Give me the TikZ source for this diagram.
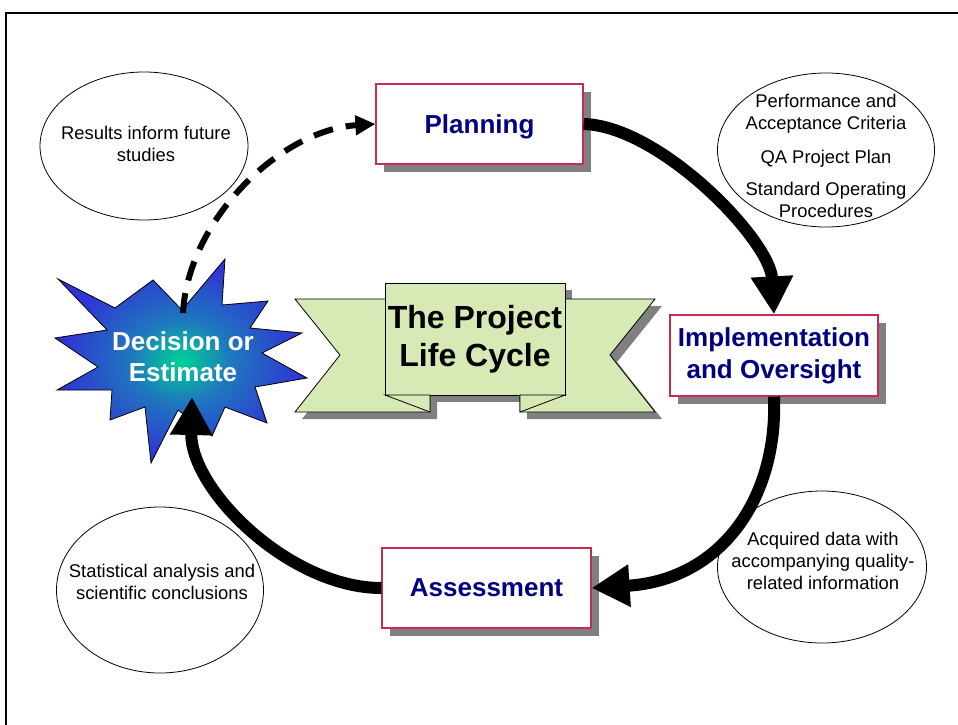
\documentclass[tikz,border=0pt]{standalone}
\usepackage{fontspec}
\setmainfont{Liberation Sans}
\usetikzlibrary{arrows.meta,shadows,shapes.geometric}
\definecolor{navy}{RGB}{0,0,128}
\definecolor{boxred}{RGB}{200,45,80}
\definecolor{shadowgray}{RGB}{128,128,128}
\definecolor{ribbongreen}{RGB}{215,233,181}
\definecolor{starblue}{RGB}{48,52,212}
\definecolor{starmid}{RGB}{30,120,190}
\definecolor{starteal}{RGB}{0,210,150}
\pgfdeclareradialshading{starglow}{\pgfpoint{0bp}{0bp}}{%
  color(0bp)=(starteal); color(10bp)=(starmid); color(24bp)=(starblue); color(50bp)=(starblue)}
\begin{document}
\begin{tikzpicture}[x=1pt,y=-1pt,
  stagebox/.style={rectangle, draw=boxred, line width=1.2pt, fill=white,
    align=center, text=navy, font=\fontsize{26}{32}\selectfont\bfseries,
    inner sep=0pt,
    general shadow={fill=shadowgray, shadow xshift=8pt, shadow yshift=-8pt}},
  ell/.style={ellipse, draw=black, line width=0.8pt, fill=white, inner sep=0pt},
  etext/.style={align=center, font=\fontsize{18.4}{22}\selectfont, inner sep=0pt},
  startext/.style={align=center, text=white, font=\fontsize{26}{31}\selectfont\bfseries, inner sep=0pt},
  ribbonpart/.style={fill=ribbongreen, draw=black, line width=0.8pt, line join=miter},
  bigarrow/.style={line width=12pt, -{Triangle[width=40pt,length=38pt]}},
  dasharrow/.style={line width=6pt, dash pattern=on 20pt off 13pt, -{Triangle[width=19pt,length=20pt]}}
]
\useasboundingbox (0,0) rectangle (958,725);
\fill[white] (0,0) rectangle (958,725);
% frame
\draw[line width=2.5pt] (6,740) -- (6,13) -- (970,13);

% ellipses
\node[ell, minimum width=208pt, minimum height=148pt] (e1) at (144,146) {};
\node[etext] (t1) at (146,144) {Results inform future\\studies};
\node[ell, minimum width=217pt, minimum height=154pt] (e2) at (826,150) {};
\node[etext] (t2) at (826,156) {Performance and\\Acceptance Criteria\\[12pt]QA Project Plan\\[10pt]Standard Operating\\Procedures};
\node[ell, minimum width=207pt, minimum height=166pt] (e3) at (160,590) {};
\node[etext] (t3) at (162,582) {Statistical analysis and\\scientific conclusions};
\node[ell, minimum width=209pt, minimum height=152pt] (e4) at (822,567) {};
\node[etext] (t4) at (823,561) {Acquired data with\\accompanying quality-\\related information};

% ribbon shadow
\begin{scope}[shift={(7,7)}]
  \fill[shadowgray] (295,299) -- (430,299) -- (430,412) -- (295,412) -- (340,355) -- cycle;
  \fill[shadowgray] (655,299) -- (520,299) -- (520,412) -- (655,412) -- (610,355) -- cycle;
  \fill[shadowgray] (385,283) rectangle (565,395);
\end{scope}
% ribbon
\path[ribbonpart] (295,299) -- (430,299) -- (430,412) -- (295,412) -- (340,355) -- cycle;
\path[ribbonpart] (655,299) -- (520,299) -- (520,412) -- (655,412) -- (610,355) -- cycle;
\path[ribbonpart] (385,283) rectangle (565,395);
\path[ribbonpart] (385,395) -- (430,412) -- (430,395) -- cycle;
\path[ribbonpart] (565,395) -- (520,412) -- (520,395) -- cycle;
\node[align=center, font=\fontsize{32}{38}\selectfont\bfseries, inner sep=0pt] (title) at (475,339) {The Project\\Life Cycle};

% star
\shade[draw=black, line width=0.8pt, shading=starglow]
  (58,279) -- (115,308) -- (153,280) -- (182,310) -- (225,259) -- (222,305)
  -- (268,301) -- (250,328) -- (302,333) -- (262,353) -- (307,378) -- (255,387)
  -- (267,423) -- (225,407) -- (212,436) -- (178,410) -- (151,463) -- (145,407)
  -- (110,420) -- (112,390) -- (57,390) -- (98,367) -- (55,338) -- (107,330) -- cycle;
\node[startext] (dec) at (183,357) {Decision or\\Estimate};
\coordinate (startop) at (183,313);
\coordinate (starbot) at (192,397);

% stage boxes
\node[stagebox, minimum width=207pt, minimum height=80pt, text depth=0pt] (plan) at (479.5,124) {Planning};
\node[stagebox, minimum width=208pt, minimum height=81pt] (impl) at (774,355.5) {Implementation\\and Oversight};
\node[stagebox, minimum width=209pt, minimum height=80pt] (assess) at (486.5,588) {Assessment};

% connectors
\draw[bigarrow] (plan.east) .. controls (660,126) and (770,240) .. (impl.north);
\draw[bigarrow] (impl.south) .. controls (778,500) and (720,580) .. (assess.east);
\draw[bigarrow] (assess.west) .. controls (290,588) and (190,490) .. (starbot);
\draw[dasharrow] (startop) .. controls (188,220) and (280,130) .. (plan.west);
\end{tikzpicture}
\end{document}
